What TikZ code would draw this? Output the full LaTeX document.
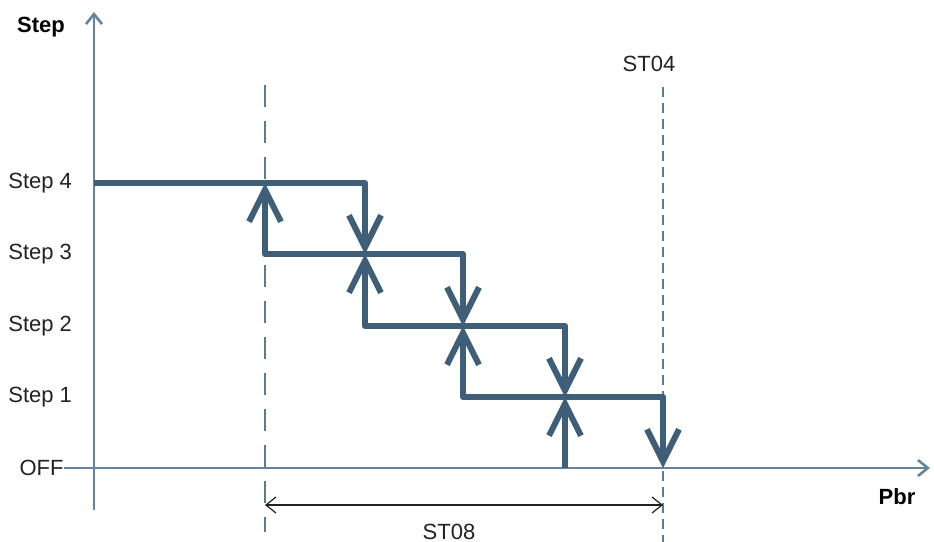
\documentclass[tikz,border=0pt]{standalone}
\usepackage{fontspec}
\setmainfont{Liberation Sans}
\usetikzlibrary{arrows.meta,calc}
\definecolor{AxisBlue}{HTML}{6483A0}
\definecolor{StairBlue}{HTML}{3F5E78}
\definecolor{GuideBlue}{HTML}{5A7A95}
\definecolor{DarkText}{HTML}{222222}
\tikzset{
  barb/.tip={Straight Barb[length=16pt,width=16pt]},
  thinbarb/.tip={Straight Barb[length=5pt,width=8pt]},
  axis/.style={line width=1.3pt, draw=AxisBlue, -thinbarb},
  stair/.style={line width=3pt, draw=StairBlue, line join=round},
  guide/.style={line width=1.4pt, draw=GuideBlue, dash pattern=on 11pt off 7pt},
  fineguide/.style={line width=1pt, draw=GuideBlue, dash pattern=on 5pt off 3pt},
  span/.style={line width=0.6pt, draw=DarkText, thinbarb-thinbarb},
  lvl/.style={font=\fontsize{11}{13}\selectfont, text=DarkText, inner sep=0pt},
  boldlbl/.style={font=\fontsize{11}{13}\selectfont\bfseries, text=black, inner sep=0pt}
}
\begin{document}
\begin{tikzpicture}[x=0.5pt,y=-0.5pt]
\useasboundingbox (0,0) rectangle (934,542);
% levels and switching points
\coordinate (y4) at (0,183);
\coordinate (y3) at (0,254);
\coordinate (y2) at (0,326);
\coordinate (y1) at (0,397);
\coordinate (y0) at (0,468);
% guides
\draw[guide] (265,85) -- (265,532);
\draw[fineguide] (663,87) -- (663,542);
% axes
\draw[axis] (94,510) -- (94,12);
\draw[axis] (64,468) -- (930,468);
% labels
\node[boldlbl] (ylbl) at (41,27) {Step};
\node[boldlbl] (xlbl) at (897,497) {Pbr};
\foreach \n in {4,3,2,1}{\node[lvl,anchor=west] (l\n) at ($(8,0)+(y\n)$) {Step \n};}
\node[lvl,anchor=east] (loff) at (64,468) {OFF};
\node[lvl] (st04) at (649,64) {ST04};
\node[lvl] (st08) at (449,532) {ST08};
% hysteresis steps
\draw[stair,-barb] (94,183) -- (365,183) -- (365,254);
\draw[stair,barb-barb] (265,183) -- (265,254) -- (463,254) -- (463,326);
\draw[stair,barb-barb] (365,254) -- (365,326) -- (565,326) -- (565,397);
\draw[stair,barb-barb] (463,326) -- (463,397) -- (663,397) -- (663,468);
\draw[stair,barb-] (565,397) -- (565,468);
% differential
\draw[span] (265,505) -- (663,505);
\end{tikzpicture}
\end{document}
